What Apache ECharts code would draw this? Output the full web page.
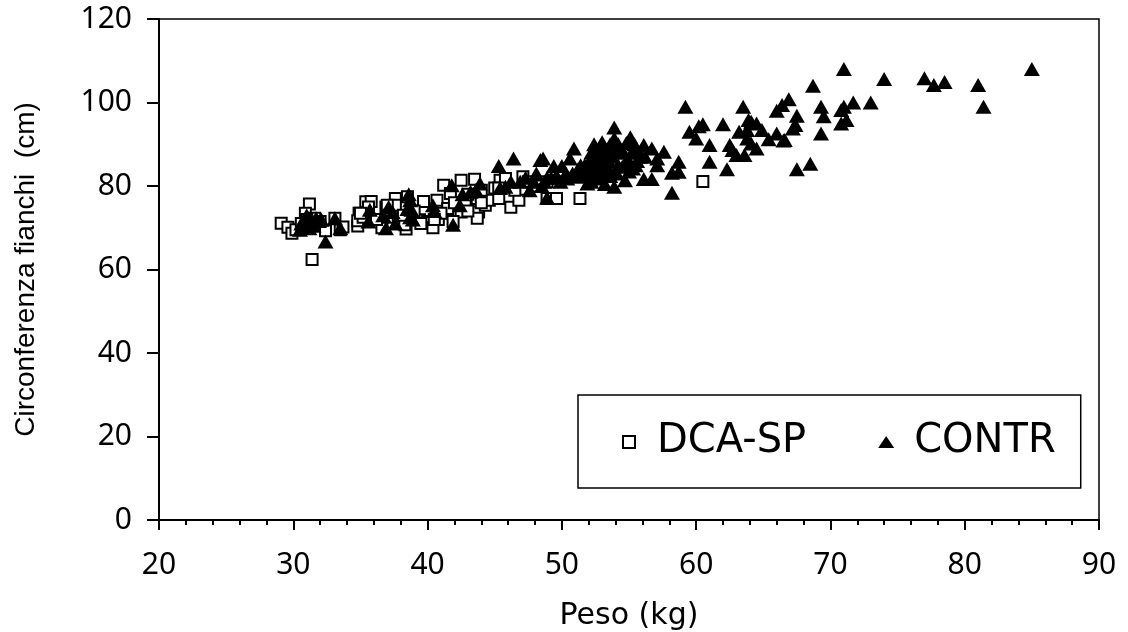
<!DOCTYPE html>
<html>
<head>
<meta charset="utf-8">
<script src="https://cdn.jsdelivr.net/npm/echarts@6/dist/echarts.min.js"></script>
<style>
  html, body { margin: 0; padding: 0; background: #fff; }
</style>
</head>
<body>
<div id="chart" style="width: 1128px; height: 632px"></div>
<script>
const dcaPeso = [29.1, 29.6, 29.9, 30.2, 31.2, 31.4, 30.9, 31.6, 32.4, 33.1, 33.5, 33.7, 32.0, 34.8, 34.9, 34.8, 35.4, 35.8, 35.6, 36.6, 36.9, 37.6, 37.6, 38.4, 38.5, 38.3, 39.7, 39.4, 40, 40.4, 40.8, 40.7, 41.5, 41.2, 42.5, 43.5, 41.7, 42.5, 43.7, 43.8, 43.7, 44.3, 44.6, 45.3, 45.4, 45.8, 46.2, 46.8, 47.1, 48.9, 49.6, 48.9, 51.35, 60.5, 37.0, 38.2, 39.0, 41.0, 42.0, 43.0, 44.0, 45.0, 46.5, 47.5, 48.2, 36.2, 35.2, 31.0, 30.6, 45.3, 44.0, 41.9, 35.0, 37.0, 39.5, 40.5, 42.8, 43.0];
const dcaFianchi = [71.1, 70.1, 68.7, 69.5, 75.7, 62.4, 73.5, 72.3, 69.3, 72.3, 69.5, 70.2, 71.5, 70.4, 73.5, 71.7, 76.2, 76.3, 75, 70, 75, 77, 75.4, 69.7, 77.4, 70.7, 76.3, 71.9, 71.5, 70, 72, 76.6, 74.6, 80.2, 81.4, 81.6, 78.2, 73.8, 77, 73.8, 72.3, 75.4, 76.6, 77, 81.4, 81.8, 74.9, 76.6, 82.2, 77, 77, 81, 77, 81.1, 72.5, 73, 74, 73.5, 76, 78, 79, 79.5, 79, 81, 80, 72, 72.5, 72, 71, 79.5, 76, 71.5, 73.5, 75.4, 71, 72, 76, 74];

const contrPeso = [30.5, 30.7, 31, 31.2, 31.7, 32.1, 30.9, 31.3, 32.4, 33.1, 33.5, 35.6, 35.7, 36.7, 36.9, 37.1, 37.6, 37.4, 38.7, 38.8, 38.6, 38.9, 40.4, 40.5, 41.8, 41.9, 42.4, 42.6, 43.2, 43.9, 43.6, 45.3, 45.4, 45.8, 46.4, 46.9, 47.6, 48.1, 48.4, 47.9, 48.6, 48.9, 48.7, 48.9, 49.4, 49.9, 50, 50.4, 50.6, 50.9, 49.6, 51.1, 51.6, 51.9, 52, 52.1, 52.3, 52.3, 52.7, 52.8, 52.9, 53.1, 53.3, 53.6, 53.9, 53.9, 53.9, 54.3, 54.5, 54.7, 55.1, 55.3, 55.3, 56.1, 56.1, 56.2, 56.7, 56.7, 57.1, 57.1, 57.6, 58.2, 58.2, 58.7, 58.7, 59.2, 59.5, 60, 60.2, 60.5, 61, 61, 62, 62.3, 62.5, 62.7, 63, 63.2, 63.5, 63.6, 63.8, 63.8, 63.9, 64.1, 64.1, 64.5, 64.5, 64.9, 65.4, 66, 66, 66.4, 66.5, 66.6, 66.9, 67.2, 67.4, 67.5, 67.5, 68.5, 68.7, 69.3, 69.3, 69.5, 70.8, 70.8, 71, 71, 71.2, 71.7, 73, 74, 77, 77.7, 78.5, 81, 81.4, 85, 50.3, 51.4, 52.5, 53, 53.7, 54.2, 54.8, 55.5, 55.8, 53.4, 52.2, 53.2, 54.1, 55, 49.2, 50.8, 51.7, 52.6, 53.5, 46.2, 47.3, 48.5, 52.4, 53, 53.6, 54.2, 54.8, 55.4, 52.2, 52.8, 53.4, 54, 54.6, 55.2, 55.8, 52.5, 53.1, 53.5, 55, 55.6, 51.2, 51.8, 52.4, 53, 53.5, 51, 51.6, 52.2, 52.8, 53.4, 38.5, 38.7, 30.8, 31.1, 31.5, 30.6];
const contrFianchi = [69.5, 70.7, 73, 69.9, 72.3, 71.9, 71, 72, 66.7, 72.3, 69.9, 71.5, 74.3, 73, 69.9, 75, 71, 73.8, 76.6, 74.3, 78, 72, 75.4, 74, 80.2, 70.7, 75.4, 78, 78.6, 80.6, 79, 84.8, 79.5, 79.8, 86.6, 81, 79, 83, 86.2, 81, 86.6, 77.2, 81, 82, 84.8, 81, 84.8, 81.8, 86.6, 89, 82.5, 82.2, 83.8, 80.6, 85, 86.2, 83.4, 88.2, 86.7, 81.8, 89.8, 85, 88.6, 82.4, 94, 91.4, 79.8, 88.6, 84.6, 81.4, 91.7, 88.2, 84.2, 89.8, 81.7, 87, 89, 81.7, 86.6, 85, 88.2, 83.2, 78.4, 85.8, 83.4, 99, 93, 91.4, 94.3, 94.8, 89.8, 85.8, 94.8, 84, 89.8, 88.6, 87.4, 93, 99, 87.4, 91.4, 93.4, 95.8, 90.2, 95.4, 89, 95, 93.4, 91.2, 92.6, 98, 99.4, 90.9, 91, 100.8, 93.8, 94.6, 96.8, 84, 85.3, 104, 99, 92.6, 96.7, 95, 98.2, 108, 99, 95.8, 100, 100, 105.6, 105.8, 104.2, 104.9, 104.2, 99, 108, 83, 85, 87, 86, 87, 85, 86, 85, 87, 83, 81, 80.5, 83, 83.5, 82, 83, 85, 84, 84, 81, 82, 80, 90, 90.5, 90, 90, 90.3, 90, 88, 87.8, 88, 88, 88, 88, 88, 86, 86, 86, 86, 86, 84, 84, 84, 84, 84, 82.5, 82.5, 82.5, 82.5, 82.5, 74.5, 72.5, 72, 70, 70.5, 71];

const yTicks = [0, 20, 40, 60, 80, 100, 120];

function pairs(xs, ys) {
  return xs.map((x, i) => [x, ys[i]]);
}

const chart = echarts.init(document.getElementById('chart'));

const font = 'DejaVu Sans';
const tickFont = 'Noto Sans';

const option = {
  animation: false,
  backgroundColor: '#fff',
  grid: {
    left: 159,
    right: 29,
    top: 19,
    bottom: 112,
    outerBoundsMode: 'none',
    show: true,
    borderColor: '#000',
    borderWidth: 1.5
  },
  legend: {
    left: 578,
    top: 395,
    orient: 'horizontal',
    backgroundColor: '#fff',
    borderColor: '#000',
    borderWidth: 1.5,
    borderRadius: 0,
    padding: [27, 25, 26, 44],
    itemGap: 72,
    itemWidth: 16,
    itemHeight: 12,
    textStyle: {
      fontFamily: font,
      fontSize: 40,
      color: '#000',
      padding: [0, 0, 0, 15]
    },
    data: [
      {name: 'DCA-SP', icon: 'path://M0,0H10V10H0Z'},
      {name: 'CONTR', icon: 'triangle'}
    ]
  },
  xAxis: {
    type: 'value',
    min: 20,
    max: 90,
    interval: 10,
    name: 'Peso (kg)',
    nameLocation: 'middle',
    nameGap: 81,
    nameTextStyle: {fontFamily: font, fontSize: 30, color: '#000'},
    axisLine: {onZero: false, lineStyle: {color: '#000', width: 2}},
    axisTick: {show: true, length: 10, lineStyle: {color: '#000', width: 2}},
    minorTick: {show: true, splitNumber: 5, length: 5, lineStyle: {color: '#000', width: 2}},
    axisLabel: {fontFamily: tickFont, fontSize: 30, color: '#000', margin: 30},
    splitLine: {show: false}
  },
  yAxis: {
    type: 'value',
    min: yTicks[0],
    max: yTicks[yTicks.length - 1],
    interval: 20,
    name: 'Circonferenza fianchi  (cm)',
    nameLocation: 'middle',
    nameGap: 119,
    nameTextStyle: {fontFamily: 'Liberation Sans', fontSize: 28, color: '#000'},
    axisLine: {onZero: false, lineStyle: {color: '#000', width: 2}},
    axisTick: {show: true, length: 12, lineStyle: {color: '#000', width: 2}},
    axisLabel: {fontFamily: tickFont, fontSize: 30, color: '#000', margin: 27, padding: [3, 0, 0, 0]},
    splitLine: {show: false}
  },
  series: [
    {
      name: 'DCA-SP',
      type: 'scatter',
      symbol: 'rect',
      symbolSize: 11,
      itemStyle: {color: '#fff', borderColor: '#000', borderWidth: 2, opacity: 1},
      data: pairs(dcaPeso, dcaFianchi),
      z: 2
    },
    {
      name: 'CONTR',
      type: 'scatter',
      symbol: 'triangle',
      symbolSize: [16, 14],
      itemStyle: {color: '#000', opacity: 1},
      data: pairs(contrPeso, contrFianchi),
      z: 3
    }
  ]
};

chart.setOption(option);
</script>
</body>
</html>
